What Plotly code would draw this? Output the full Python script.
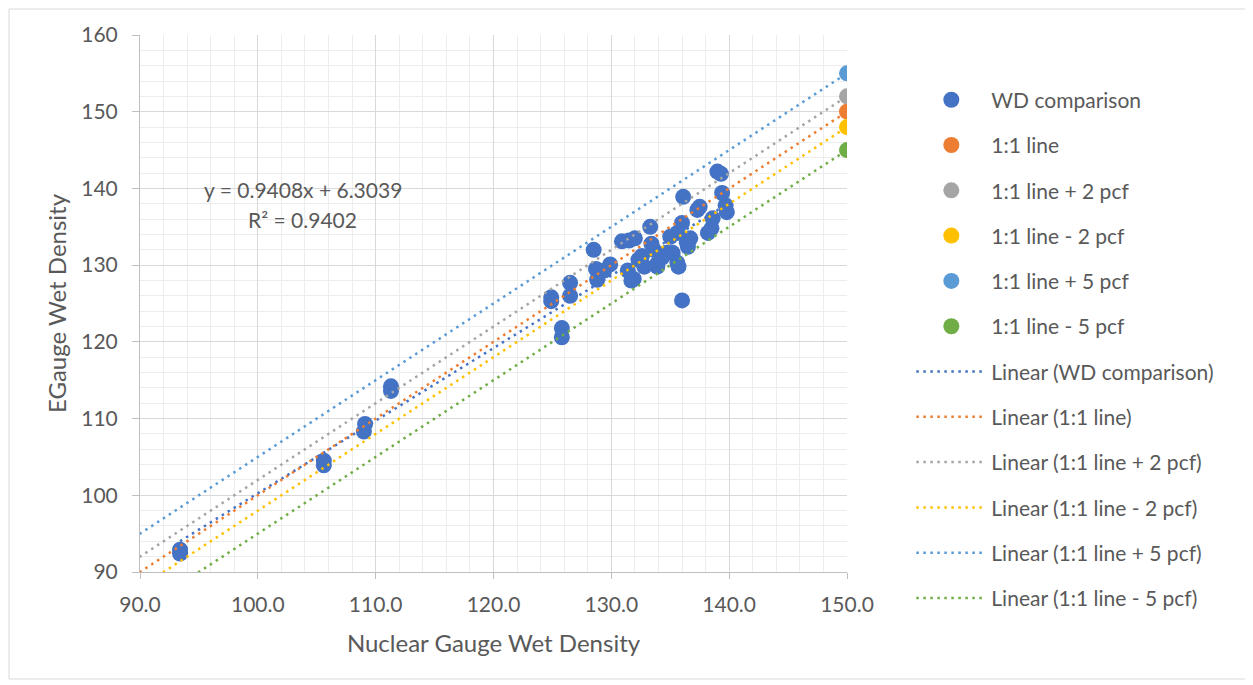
import numpy as np
import plotly.graph_objects as go

# ---- data ----
wd_x = [93.4, 93.4, 105.6, 105.6, 109.1, 109.0, 111.3, 111.3, 124.9, 124.9,
        125.8, 125.8, 126.5, 126.5, 128.5, 128.7, 128.8, 129.9, 129.4, 130.9,
        131.5, 132.0, 131.4, 131.9, 131.7, 132.3, 132.6, 133.3, 133.4, 133.6,
        133.9, 133.9, 134.7, 135.0, 135.2, 135.6, 135.7, 135.6, 136.0, 136.1,
        136.4, 136.5, 136.0, 137.3, 137.5, 138.2, 138.5, 138.6, 139.0, 139.3,
        139.4, 139.7, 139.8, 136.7, 134.3, 132.8]
wd_y = [92.9, 92.4, 104.5, 103.9, 109.3, 108.3, 114.2, 113.6, 125.8, 125.3,
        121.8, 120.6, 127.7, 126.0, 132.0, 129.5, 128.1, 130.1, 129.3, 133.1,
        133.2, 133.5, 129.3, 128.2, 128.0, 130.7, 131.2, 135.0, 132.8, 132.0,
        130.2, 129.8, 131.6, 133.7, 131.6, 130.3, 129.8, 134.2, 135.5, 138.9,
        133.0, 132.4, 125.4, 137.2, 137.6, 134.2, 134.8, 136.1, 142.2, 141.9,
        139.4, 137.8, 136.9, 133.5, 131.0, 129.8]

ref_x = [80, 150]
ref_names = ["1:1 line", "1:1 line + 2 pcf", "1:1 line - 2 pcf", "1:1 line + 5 pcf", "1:1 line - 5 pcf"]
ref_offsets = [0, 2, -2, 5, -5]
ref_colors = ["#ED7D31", "#A5A5A5", "#FFC000", "#5B9BD5", "#70AD47"]

eq_text = "y = 0.9408x + 6.3039"
r2_text = "R² = 0.9402"

x_ticks = [90, 100, 110, 120, 130, 140, 150]
y_ticks = [90, 100, 110, 120, 130, 140, 150, 160]

WD_COLOR = "#4472C4"
TXT = "#595959"
FONT = "Lato, Liberation Sans, sans-serif"
DOT = "2.5px,4.5px"

fig = go.Figure()

# marker series
fig.add_trace(go.Scatter(x=wd_x, y=wd_y, mode="markers", name="WD comparison",
                         marker=dict(color=WD_COLOR, size=16), legendgroup="g0"))
for i, (n, o, c) in enumerate(zip(ref_names, ref_offsets, ref_colors)):
    fig.add_trace(go.Scatter(x=ref_x, y=[v + o for v in ref_x], mode="markers", name=n,
                             marker=dict(color=c, size=16), legendgroup=f"g{i+1}"))

# trendlines (drawn over markers)
coef = np.polyfit(wd_x, wd_y, 1)
tx = [min(wd_x), max(wd_x)]
fig.add_trace(go.Scatter(x=tx, y=list(np.polyval(coef, tx)), mode="lines",
                         name="Linear (WD comparison)",
                         line=dict(color=WD_COLOR, width=2.5, dash=DOT), legendgroup="t0"))
for i, (n, o, c) in enumerate(zip(ref_names, ref_offsets, ref_colors)):
    ry = [v + o for v in ref_x]
    cf = np.polyfit(ref_x, ry, 1)
    fig.add_trace(go.Scatter(x=ref_x, y=list(np.polyval(cf, ref_x)), mode="lines",
                             name=f"Linear ({n})",
                             line=dict(color=c, width=2.5, dash=DOT), legendgroup=f"t{i+1}"))

# page body has an 8px offset
W, H = 1245, 677
ML, MT = 132, 27
PW, PH = 707, 537

fig.update_layout(
    width=W, height=H,
    margin=dict(l=ML, r=W - ML - PW, t=MT, b=H - MT - PH),
    paper_bgcolor="white", plot_bgcolor="white",
    font=dict(family=FONT, color=TXT, size=20),
    showlegend=True,
    legend=dict(x=1.091, xanchor="left", xref="paper", y=0.917, yanchor="top",
                font=dict(size=21, color=TXT), tracegroupgap=15, maxheight=800,
                itemwidth=70, traceorder="grouped", bgcolor="rgba(0,0,0,0)"),
)

fig.update_xaxes(range=[90, 150], tickvals=x_ticks, ticktext=[f"{v:.1f}" for v in x_ticks],
                 showgrid=True, gridcolor="#D9D9D9", gridwidth=1,
                 minor=dict(dtick=2, tick0=90, showgrid=True, gridcolor="#EDEDED", gridwidth=1),
                 showline=True, linecolor="#BFBFBF", linewidth=1,
                 ticks="outside", ticklen=6, tickcolor="#BFBFBF", ticklabelstandoff=8,
                 zeroline=False, tickfont=dict(size=21, color=TXT),
                 title=dict(text="Nuclear Gauge Wet Density", font=dict(size=24, color=TXT), standoff=19))
fig.update_yaxes(range=[90, 160], tickvals=y_ticks,
                 showgrid=True, gridcolor="#D9D9D9", gridwidth=1,
                 minor=dict(dtick=2, tick0=90, showgrid=True, gridcolor="#EDEDED", gridwidth=1),
                 showline=True, linecolor="#BFBFBF", linewidth=1,
                 ticks="outside", ticklen=7, tickcolor="#BFBFBF", ticklabelstandoff=10,
                 zeroline=False, tickfont=dict(size=21, color=TXT),
                 title=dict(text="EGauge Wet Density", font=dict(size=24, color=TXT), standoff=7))

fig.add_annotation(x=103.8, y=139.9, xref="x", yref="y", text=eq_text, showarrow=False,
                   font=dict(size=21, color=TXT))
fig.add_annotation(x=103.8, y=136.0, xref="x", yref="y", text=r2_text, showarrow=False,
                   font=dict(size=21, color=TXT))

# outer chart frame (page coords ~9..1248 x 9..679)
ox, oy = ML + 8, MT + 8
fig.add_shape(type="rect", xref="paper", yref="paper",
              x0=(9 - ox) / PW, x1=(1248 - ox) / PW,
              y0=(oy + PH - 679) / PH, y1=(oy + PH - 9) / PH,
              line=dict(color="#D9D9D9", width=1), fillcolor="rgba(0,0,0,0)", layer="below")

fig.write_html("out.html")
